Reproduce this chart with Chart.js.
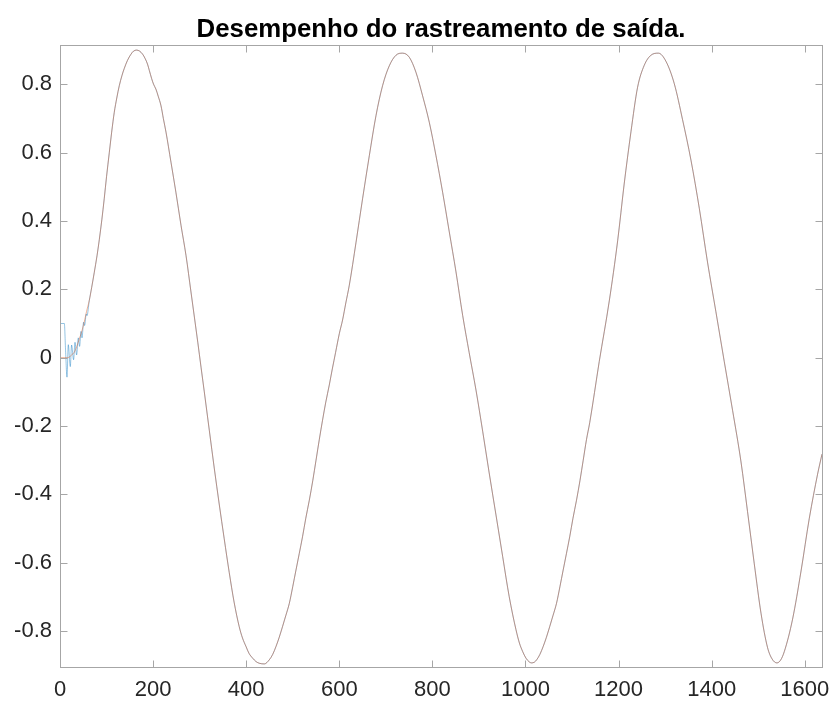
<!DOCTYPE html>
<html>
<head>
<meta charset="utf-8">
<script src="https://cdn.jsdelivr.net/npm/chart.js@4"></script>
<style>
    body { margin: 0; background: #fff; }
    canvas { display: block; }
</style>
</head>
<body>
<canvas id="rastreamentoChart" width="836" height="704"></canvas>
<script>
// Sinal de referencia (laranja)
const tempo = [
    0, 10, 16, 20, 25, 30.7, 36, 41.5, 47, 52, 57, 63, 68, 73.7, 79.5, 84.4, 90, 95, 100, 106,
    111, 116.6, 122, 127.4, 133, 138, 145, 152.5, 158, 164.6, 171, 177.5, 183, 188, 192, 196.8,
    201, 206, 211, 217, 222, 227.7, 238.4, 249, 260, 270.7, 281.4, 296, 303, 310, 320.7, 331.4,
    342, 352.8, 363.5, 374, 385, 392, 399.6, 406, 413.8, 421, 428, 439, 449.6, 457, 464, 471,
    478, 485, 492.6, 500, 507, 514, 521, 528, 535.6, 543, 550, 557, 564, 571, 578.5, 585, 592,
    600, 607, 614, 621.5, 636, 650, 664.5, 678.8, 693, 707.4, 721.8, 736, 750.4, 764.7, 779, 793.3,
    807.7, 822, 836.3, 850.7, 865, 879, 893.7, 908, 922, 936.6, 951, 965, 979.6, 987, 994, 1001,
    1008, 1013, 1019, 1024, 1031, 1038, 1045, 1052, 1059, 1066.6, 1074, 1081, 1088, 1095, 1102,
    1109.6, 1117, 1124, 1131, 1138, 1158.5, 1180, 1198, 1212, 1226.6, 1240.8, 1255, 1269.6,
    1285.6, 1301.8, 1319.6, 1337.5, 1355.5, 1373.4, 1391, 1409, 1427, 1445, 1463, 1477, 1491.5,
    1506, 1520, 1530, 1540, 1548, 1556, 1573.8, 1592, 1609.6, 1627.5, 1637
];
const referencia = [
    0, 0, 0, 0.002, 0.008, 0.016, 0.033, 0.055, 0.078, 0.104, 0.135, 0.168, 0.205, 0.25, 0.298, 0.345, 0.405, 0.465, 0.53, 0.601,
    0.66, 0.718, 0.76, 0.796, 0.825, 0.846, 0.87, 0.888, 0.897, 0.90, 0.897, 0.888, 0.875, 0.859, 0.84, 0.817,
    0.80, 0.786, 0.765, 0.737, 0.70, 0.66, 0.572, 0.484, 0.387, 0.299, 0.192, 0.045, -0.028, -0.10, -0.212, -0.323,
    -0.428, -0.53, -0.628, -0.715, -0.787, -0.82, -0.845, -0.865, -0.879, -0.889, -0.894, -0.896, -0.884, -0.868, -0.845, -0.818,
    -0.787, -0.755, -0.719, -0.67, -0.621, -0.573, -0.524, -0.47, -0.417, -0.36, -0.30, -0.24, -0.183, -0.13, -0.08, -0.033, 0.015,
    0.07, 0.11, 0.16, 0.212, 0.338, 0.465, 0.591, 0.708, 0.796, 0.854, 0.885, 0.891, 0.879, 0.835, 0.766, 0.689,
    0.591, 0.484, 0.368, 0.251, 0.124, 0.015, -0.095, -0.215, -0.337, -0.46, -0.582, -0.699, -0.796, -0.835, -0.86, -0.879,
    -0.89, -0.893, -0.891, -0.884, -0.868, -0.845, -0.818, -0.787, -0.755, -0.719, -0.67, -0.621, -0.573, -0.524, -0.47,
    -0.417, -0.36, -0.30, -0.24, -0.19, -0.011, 0.166, 0.342, 0.508, 0.661, 0.791, 0.855, 0.885,
    0.891, 0.867, 0.802, 0.696, 0.578, 0.437, 0.28, 0.135, -0.011, -0.155, -0.305, -0.45, -0.603,
    -0.748, -0.848, -0.882, -0.893, -0.885, -0.86, -0.765, -0.624, -0.471, -0.341, -0.282
];

// Saida (azul): transitorio inicial, depois segue a referencia
const tempoTransitorio = [0, 9.3, 12, 15, 17.8, 22.1, 24.9, 29.2, 32.2, 35.7, 39.3, 42.1, 45.1, 47.3, 50.7, 52.8, 56.5, 58];
const saidaTransitorio = [0.1, 0.1, 0.02, -0.057, 0.038, -0.026, 0.037, -0.006, 0.045, 0.008, 0.058, 0.033, 0.077, 0.058, 0.104, 0.094, 0.128, 0.123];
const fimTransitorio = 63;

// eixos
const xLimites = [0, 1637];
const yLimites = [-0.905, 0.915];
const xTickValores = [0, 200, 400, 600, 800, 1000, 1200, 1400, 1600];
const yTickValores = [-0.8, -0.6, -0.4, -0.2, 0, 0.2, 0.4, 0.6, 0.8];

const refData = tempo.map((t, i) => ({ x: t, y: referencia[i] }));
const saidaData = tempoTransitorio.map((t, i) => ({ x: t, y: saidaTransitorio[i] }))
    .concat(refData.filter(p => p.x >= fimTransitorio));

const axisColor = '#a6a6a6';
const textColor = '#262626';
const fontFamily = '"Liberation Sans", Arial, Helvetica, sans-serif';

// caixa + ticks para dentro (estilo matlab)
const boxPlugin = {
    id: 'boxTicks',
    afterDatasetsDraw(chart) {
        const ctx = chart.ctx;
        const a = chart.chartArea;
        const xs = chart.scales.x;
        const ys = chart.scales.y;
        const len = 7;
        const l = Math.round(a.left) + 0.5, r = Math.round(a.right) + 0.5;
        const t = Math.round(a.top) + 0.5, b = Math.round(a.bottom) + 0.5;
        ctx.save();
        ctx.strokeStyle = axisColor;
        ctx.lineWidth = 1;
        ctx.strokeRect(l, t, r - l, b - t);
        ctx.beginPath();
        xs.ticks.forEach(tk => {
            const px = Math.round(xs.getPixelForValue(tk.value)) + 0.5;
            ctx.moveTo(px, b);
            ctx.lineTo(px, b - len);
            ctx.moveTo(px, t);
            ctx.lineTo(px, t + len);
        });
        ys.ticks.forEach(tk => {
            const py = Math.round(ys.getPixelForValue(tk.value)) + 0.5;
            ctx.moveTo(l, py);
            ctx.lineTo(l + len, py);
            ctx.moveTo(r, py);
            ctx.lineTo(r - len, py);
        });
        ctx.stroke();
        ctx.restore();
    }
};

const ctx = document.getElementById('rastreamentoChart').getContext('2d');

const myChart = new Chart(ctx, {
    type: 'line',
    data: {
        datasets: [{
            label: 'Referência',
            data: refData,
            borderColor: 'rgba(217, 83, 25, 0.45)',
            borderWidth: 1,
            pointRadius: 0,
            cubicInterpolationMode: 'monotone',
        }, {
            label: 'Saída',
            data: saidaData,
            borderColor: 'rgba(0, 114, 189, 0.42)',
            borderWidth: 1,
            pointRadius: 0,
            cubicInterpolationMode: 'monotone',
        }]
    },
    options: {
        responsive: false,
        maintainAspectRatio: false,
        animation: false,
        layout: { padding: { top: 0, right: 14, left: 0, bottom: 0 } },
        plugins: {
            legend: { display: false },
            tooltip: { enabled: false },
            title: {
                display: true,
                text: 'Desempenho do rastreamento de saída.',
                fullSize: false,
                color: '#000',
                font: { family: fontFamily, size: 25.8, weight: 'bold', lineHeight: 1.2 },
                padding: { top: 14, bottom: 0 },
            },
        },
        scales: {
            x: {
                type: 'linear',
                min: xLimites[0],
                max: xLimites[1],
                grid: { display: false, drawTicks: false },
                border: { display: false },
                afterBuildTicks(scale) {
                    scale.ticks = xTickValores.map(v => ({ value: v }));
                },
                ticks: {
                    maxRotation: 0,
                    autoSkip: false,
                    padding: 10,
                    color: textColor,
                    font: { family: fontFamily, size: 22 },
                    callback: v => String(v),
                },
                afterFit(scale) {
                    scale.height = 37;
                    scale.paddingLeft = 0;
                    scale.paddingRight = 0;
                },
            },
            y: {
                type: 'linear',
                min: yLimites[0],
                max: yLimites[1],
                grid: { display: false, drawTicks: false },
                border: { display: false },
                afterBuildTicks(scale) {
                    scale.ticks = yTickValores.map(v => ({ value: v }));
                },
                ticks: {
                    autoSkip: false,
                    padding: 8,
                    color: textColor,
                    font: { family: fontFamily, size: 22 },
                    callback: v => String(v),
                },
                afterFit(scale) {
                    scale.width = 60;
                    scale.paddingTop = 0;
                    scale.paddingBottom = 0;
                },
            },
        },
    },
    plugins: [boxPlugin],
});
</script>
</body>
</html>
